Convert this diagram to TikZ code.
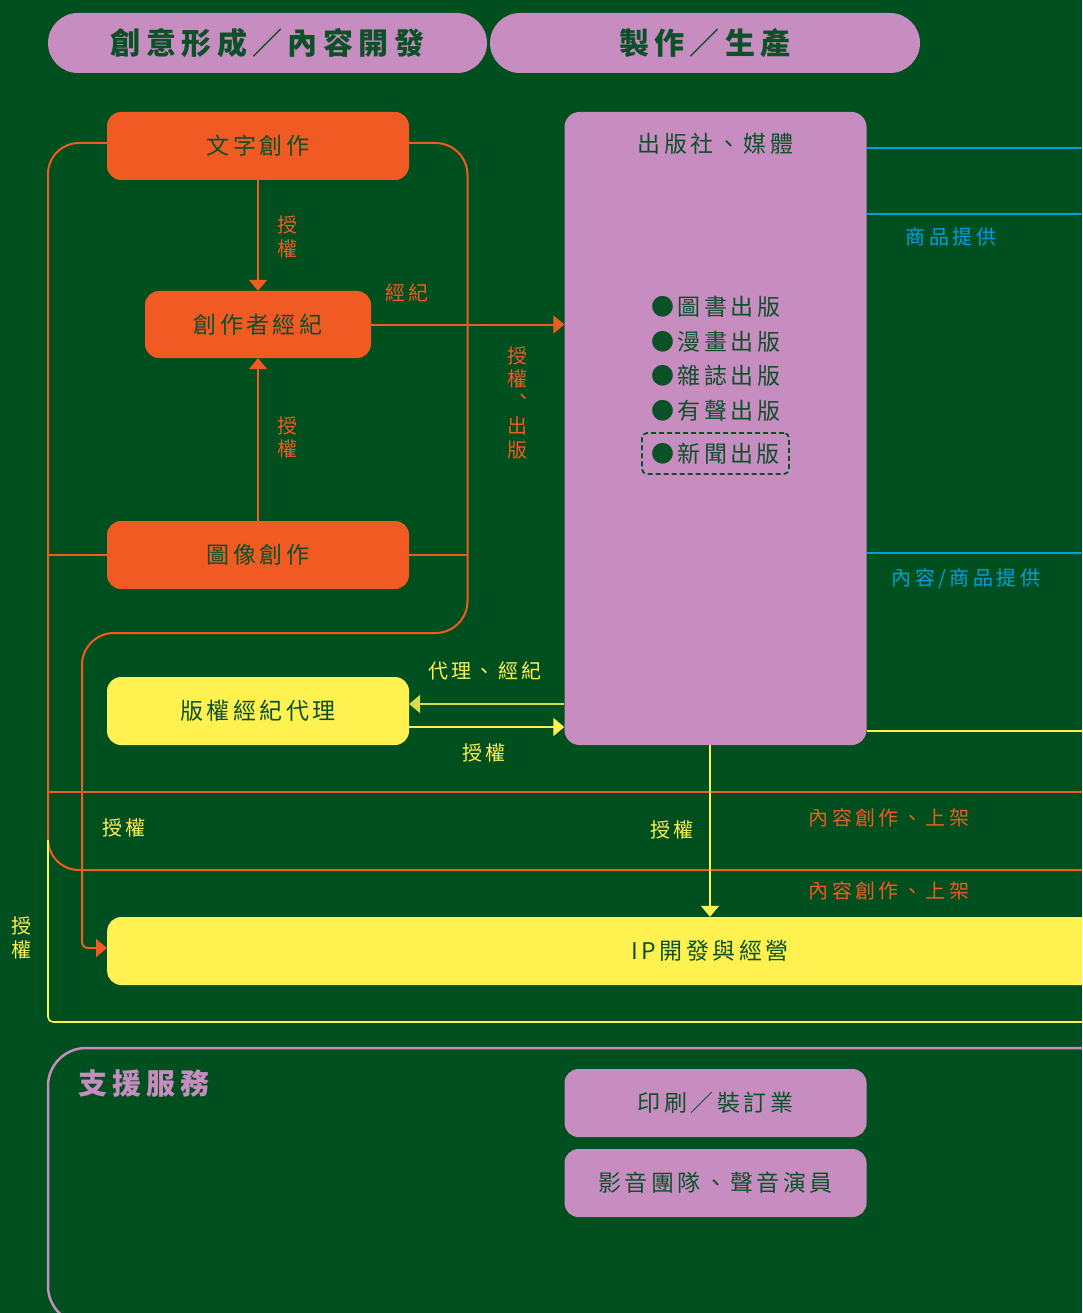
\documentclass[tikz,border=0pt]{standalone}
\usepackage{fontspec}
\usetikzlibrary{arrows.meta,calc}
\setmainfont{Noto Sans CJK TC}
\newfontfamily\cjkA[LetterSpace=15]{Noto Sans CJK TC}
\newfontfamily\cjkB[LetterSpace=17]{Noto Sans CJK TC}
\newfontfamily\cjkH[LetterSpace=18]{Noto Sans CJK TC}
\definecolor{bgc}{HTML}{00501F}
\definecolor{orng}{HTML}{F15A22}
\definecolor{pnk}{HTML}{C88DC0}
\definecolor{ylw}{HTML}{FFF250}
\definecolor{ylg}{HTML}{D8DE48}
\definecolor{blu}{HTML}{00A0E0}
\definecolor{txg}{HTML}{0B5128}
\tikzset{
  boxtxt/.style={font=\cjkA\fontsize{23}{26}\selectfont, text=txg},
  lbl/.style={font=\cjkB\fontsize{20}{23.5}\selectfont, inner sep=0pt, align=center},
  hdr/.style={fill=pnk, rounded corners=30pt, minimum height=60pt, inner sep=0pt,
    font=\cjkH\bfseries\fontsize{30}{34}\selectfont, text=txg},
  obox/.style={boxtxt, fill=orng, rounded corners=14pt, minimum width=302pt, minimum height=68pt, inner sep=0pt},
  ybox/.style={boxtxt, fill=ylw, rounded corners=14pt, minimum width=302pt, minimum height=68pt, inner sep=0pt},
  pbox/.style={boxtxt, fill=pnk, rounded corners=14pt, minimum width=302pt, minimum height=68pt, inner sep=0pt},
  item/.style={boxtxt, inner sep=0pt, anchor=west},
  oline/.style={draw=orng, line width=2pt},
  yline/.style={draw=ylw, line width=1.6pt},
  bline/.style={draw=blu, line width=2.4pt},
  arr/.style={-{Triangle[width=18pt,length=11pt]}},
}
\begin{document}
\begin{tikzpicture}[x=1pt,y=-1pt]
\fill[bgc] (0,0) rectangle (1082,1313);
\useasboundingbox (0,0) rectangle (1082,1313);
\clip (0,0) rectangle (1082,1313);

% headers
\node[hdr, minimum width=439pt] (h1) at (267.5,43) {創意形成／內容開發};
\node[hdr, minimum width=430pt] (h2) at (705,43) {製作／生產};

% boxes
\node[obox] (write) at (258,146) {文字創作};
\node[obox, minimum width=226pt, minimum height=67pt] (agent) at (258,324.5) {創作者經紀};
\node[obox] (image) at (258,555) {圖像創作};
\node[ybox] (copy) at (258,711) {版權經紀代理};
\node[fill=pnk, rounded corners=15pt, minimum width=302pt, minimum height=633pt, inner sep=0pt] (pub) at (715.5,428.5) {};
\node[boxtxt, inner sep=0pt] (pubt) at (715.5,144) {出版社、媒體};
\node[item] (i1) at (651,307) {●圖書出版};
\node[item] (i2) at (651,341.5) {●漫畫出版};
\node[item] (i3) at (651,376) {●雜誌出版};
\node[item] (i4) at (651,411) {●有聲出版};
\node[boxtxt, draw=txg, dashed, dash pattern=on 5pt off 3pt, line width=1.8pt, rounded corners=5pt,
  minimum width=147pt, minimum height=41pt, inner sep=0pt] (i5) at (715.5,453.5) {●新聞出版};

\node[fill=ylw, rounded corners=14pt, minimum width=1000pt, minimum height=68pt, inner sep=0pt, anchor=west] (ip) at (107,951) {};
\node[boxtxt, inner sep=0pt] (ipt) at (710,951) {IP開發與經營};

% support
\draw[draw=pnk, line width=2.5pt, rounded corners=38pt] (48,1048) rectangle (1140,1324);
\node[font=\cjkH\bfseries\fontsize{29}{33}\selectfont, text=pnk, inner sep=0pt, anchor=west] (sup) at (78,1083) {支援服務};
\node[pbox] (print) at (715.5,1103) {印刷／裝訂業};
\node[pbox] (av) at (715.5,1183) {影音團隊、聲音演員};

% coordinates at right edge
\coordinate (rb1) at (1082,148);
\coordinate (rb2) at (1082,214);
\coordinate (rb3) at (1082,553);
\coordinate (ry1) at (1082,731);
\coordinate (ro1) at (1082,792);
\coordinate (ro2) at (1082,870);
\coordinate (ry2) at (1082,1022);
\coordinate (lo1) at (48,792);
\coordinate (ly0) at (48,840);
\coordinate (m1) at (82,700);
\coordinate (yv) at (710,0);

% orange loop
\draw[oline, rounded corners=31pt] ([yshift=3pt]write.west) -- (48,143) -- (48,870) -- (ro2);
\draw[oline] (image.west) -- (48,555);
\draw[oline] (image.east) -- (467.5,555);
\draw[oline, rounded corners=32pt] ([yshift=3pt]write.east) -- (467.5,143) -- (467.5,633) -- (82,633) -- (m1);
\draw[oline, rounded corners=6pt, arr] (m1) -- (82,948) -- ([yshift=3pt]ip.west);
\draw[oline] (lo1) -- (ro1);

% yellow outer
\draw[yline, rounded corners=5pt] (ly0) -- (48,1022) -- (ry2);

% orange arrows
\draw[oline, arr] (write.south) -- (agent.north);
\draw[oline, arr] (image.north) -- (agent.south);
\draw[oline, arr] (agent.east) -- (agent.east -| pub.west);

% yellow arrows
\draw[yline, draw=ylg, line width=2pt, arr] ([yshift=7pt]pub.west |- copy.east) -- ([yshift=7pt]copy.east);
\draw[yline, line width=2pt, arr] ([yshift=-16pt]copy.east) -- ([yshift=-16pt]copy.east -| pub.west);
\draw[yline, arr] (pub.south -| yv) -- (ip.north -| yv);
\draw[yline] (pub.east |- ry1) -- (ry1);

% blue
\draw[bline] (pub.east |- rb1) -- (rb1);
\draw[bline] (pub.east |- rb2) -- (rb2);
\draw[bline] (pub.east |- rb3) -- (rb3);

% labels
\node[lbl, text=orng] (l1) at (287,237) {授\\權};
\node[lbl, text=orng] (l2) at (287,437.5) {授\\權};
\node[lbl, text=orng] (l3) at (407,293) {經紀};
\node[lbl, text=orng] (l4) at (517,402.5) {授\\權\\︑\\出\\版};
\node[lbl, text=ylw] (l5) at (485,671) {代理、經紀};
\node[lbl, text=ylw] (l6) at (484,753) {授權};
\node[lbl, text=ylw] (l7) at (124,828) {授權};
\node[lbl, text=ylw] (l8) at (672,830) {授權};
\node[lbl, text=ylw] (l9) at (22,938) {授\\權};
\node[lbl, text=orng] (l10) at (889,818) {內容創作、上架};
\node[lbl, text=orng] (l11) at (889,891) {內容創作、上架};
\node[lbl, text=blu] (l12) at (951,237) {商品提供};
\node[lbl, text=blu] (l13) at (966,579) {內容/商品提供};
\end{tikzpicture}
\end{document}
